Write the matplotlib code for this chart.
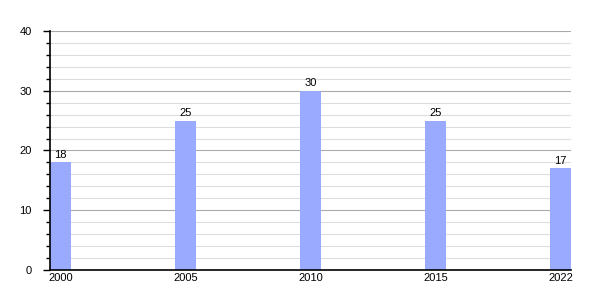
import matplotlib.pyplot as plt
import numpy as np
from matplotlib.ticker import MultipleLocator

plt.rcParams['font.family'] = ['Liberation Sans', 'DejaVu Sans']

years = ['2000', '2005', '2010', '2015', '2022']
values = [18, 25, 30, 25, 17]

fig = plt.figure(figsize=(6, 3), dpi=100)
ax = fig.add_axes([0.0833, 0.1, 0.8684, 0.7967])

x = np.arange(len(years))
w = 0.168
ax.bar(x, values, width=w, align='edge', color='#99aaff', zorder=3)
for xi, v in zip(x, values):
    ax.text(xi + w / 2, v + 0.4, str(v), ha='center', va='bottom', fontsize=8, zorder=4)

ax.set_xlim(0, len(years) - 1 + w)
ax.set_xticks(x + w / 2)
ax.set_xticklabels(years, fontsize=8)
ax.tick_params(axis='x', length=0, pad=2)

ax.set_ylim(0, 40)
ax.yaxis.set_major_locator(MultipleLocator(10))
ax.yaxis.set_minor_locator(MultipleLocator(2))
ax.tick_params(axis='y', which='major', length=5, width=1, labelsize=8, pad=8)
ax.tick_params(axis='y', which='minor', length=3, width=1)
ax.grid(axis='y', which='major', color='#aaaaaa', linewidth=0.8, zorder=1)
ax.grid(axis='y', which='minor', color='#dddddd', linewidth=0.8, zorder=0)

for s in ['top', 'right']:
    ax.spines[s].set_visible(False)
ax.spines['left'].set_linewidth(1.2)
ax.spines['bottom'].set_linewidth(1.2)
ax.spines['left'].set_zorder(5)
ax.spines['bottom'].set_zorder(5)

fig.savefig('out.png', dpi=100)
